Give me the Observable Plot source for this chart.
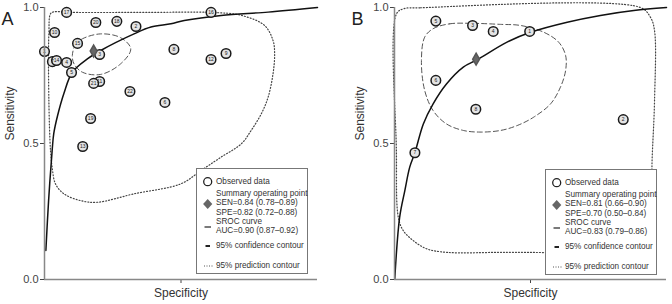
<!DOCTYPE html>
<html><head><meta charset="utf-8">
<script src="https://cdn.jsdelivr.net/npm/d3@7"></script>
<script src="https://cdn.jsdelivr.net/npm/@observablehq/plot@0.6"></script>
<style>
body{margin:0;background:#fff;font-family:"Liberation Sans",Arial,sans-serif;}
#wrap{position:relative;width:672px;height:304px;display:flex;}
.legend{position:absolute;border:1px solid #777;background:#fff;box-sizing:border-box;font-size:8.2px;color:#333;}
.legend .t{position:absolute;white-space:nowrap;line-height:1;transform:translateY(-50%);}
.legend svg{position:absolute;left:0;top:0;overflow:visible;}
</style></head><body><div id="wrap"></div>
<script>
// ---------- Panel A data (specificity, sensitivity) ----------
const studyA_label = [1,2,3,4,5,6,7,8,9,10,11,12,13,14,15,16,17,18,19,20,21,22];
const studyA_spec = [1.000,0.665,0.798,0.919,0.901,0.559,0.971,0.526,0.335,0.963,0.798,0.390,0.860,0.956,0.879,0.390,0.919,0.735,0.831,0.812,0.820,0.687];
const studyA_sens = [0.838,0.930,0.827,0.798,0.761,0.651,0.801,0.846,0.831,0.908,0.728,0.809,0.489,0.805,0.868,0.982,0.982,0.949,0.592,0.945,0.721,0.691];
const summaryA = [0.82, 0.84];
const srocA = [[0.995,0.107],[0.985,0.29],[0.972,0.474],[0.966,0.537],[0.952,0.603],[0.929,0.684],[0.898,0.762],[0.843,0.811],[0.794,0.842],[0.672,0.903],[0.610,0.928],[0.537,0.940],[0.488,0.952],[0.353,0.971],[0.181,0.983],[0.0,1.0]];
const confA = [[0.898,0.824],[0.886,0.864],[0.861,0.885],[0.794,0.903],[0.721,0.889],[0.684,0.848],[0.721,0.793],[0.794,0.754],[0.861,0.762],[0.892,0.793]];
const predA = [[0.966,0.984],[0.904,0.982],[0.610,0.982],[0.390,0.982],[0.279,0.971],[0.194,0.934],[0.163,0.879],[0.157,0.830],[0.163,0.756],[0.181,0.670],[0.206,0.609],[0.243,0.548],[0.279,0.499],[0.353,0.450],[0.426,0.401],[0.500,0.352],[0.672,0.315],[0.806,0.284],[0.868,0.290],[0.929,0.315],[0.960,0.352],[0.972,0.413],[0.978,0.474],[0.984,0.658],[0.984,0.904],[0.978,0.977]];
const legendA = ["SEN=0.84 (0.78–0.89)", "SPE=0.82 (0.72–0.88)", "AUC=0.90 (0.87–0.92)"];

// ---------- Panel B data ----------
const studyB_label = [1,2,3,4,5,6,7,8];
const studyB_spec = [0.503,0.159,0.713,0.637,0.848,0.848,0.925,0.701];
const studyB_sens = [0.912,0.588,0.934,0.912,0.950,0.732,0.466,0.626];
const summaryB = [0.70, 0.81];
const srocB = [[0.999,0.003],[0.981,0.229],[0.962,0.327],[0.944,0.413],[0.925,0.466],[0.894,0.572],[0.858,0.646],[0.809,0.719],[0.747,0.781],[0.696,0.808],[0.588,0.872],[0.5,0.909],[0.365,0.946],[0.243,0.971],[0.120,0.989],[0.0,1.0]];
const confB = [[0.858,0.922],[0.797,0.940],[0.723,0.942],[0.610,0.938],[0.537,0.934],[0.451,0.909],[0.396,0.872],[0.371,0.824],[0.371,0.768],[0.390,0.707],[0.426,0.646],[0.488,0.597],[0.549,0.566],[0.610,0.548],[0.686,0.542],[0.747,0.548],[0.809,0.572],[0.858,0.621],[0.889,0.695],[0.901,0.805],[0.889,0.891]];
const predB = [[0.968,0.995],[0.904,0.999],[0.096,1.0],[0.059,0.964],[0.044,0.915],[0.044,0.658],[0.053,0.438],[0.059,0.217],[0.096,0.125],[0.243,0.103],[0.600,0.100],[0.809,0.100],[0.882,0.113],[0.931,0.143],[0.968,0.180],[0.986,0.229],[0.993,0.474],[0.993,0.976]];
const legendB = ["SEN=0.81 (0.66–0.90)", "SPE=0.70 (0.50–0.84)", "AUC=0.83 (0.79–0.86)"];

const yTicks = [0, 0.5, 1];
const xTicks = [0.5];

function panel(letter, labels, spec, sens, summary, sroc, conf, pred, mL, mR) {
  const studies = labels.map((l, i) => ({label: l, spec: spec[i], sens: sens[i]}));
  return Plot.plot({
    width: 336, height: 304,
    marginLeft: mL, marginRight: mR, marginTop: 7, marginBottom: 25,
    style: {fontFamily: '"Liberation Sans", Arial, sans-serif', fontSize: "11px", color: "#444", background: "transparent"},
    x: {domain: [1, 0], ticks: xTicks, tickFormat: () => "", tickSize: 4, label: null},
    y: {domain: [0, 1], ticks: yTicks, tickFormat: d3.format(".1f"), tickSize: 4, tickPadding: 2, label: null},
    marks: [
      Plot.line(pred, {x: d => d[0], y: d => d[1], curve: "catmull-rom-closed", stroke: "#444", strokeWidth: 1.2, strokeDasharray: "1,2"}),
      Plot.line(conf, {x: d => d[0], y: d => d[1], curve: "catmull-rom-closed", stroke: "#555", strokeWidth: 1, strokeDasharray: "5,3"}),
      Plot.line(sroc, {x: d => d[0], y: d => d[1], curve: "catmull-rom", stroke: "#111", strokeWidth: 1.5}),
      Plot.dot(studies, {x: "spec", y: "sens", r: 4.8, stroke: "#1a1a1a", strokeWidth: 1.5, fill: "#e4e4e4"}),
      Plot.text(studies, {x: "spec", y: "sens", text: "label", fontSize: 5, fill: "#222"}),
      Plot.dot([summary], {x: d => d[0], y: d => d[1], symbol: "diamond", r: 3.6, fill: "#666", stroke: "#555"}),
      Plot.ruleX([1], {stroke: "#888", strokeWidth: 1.5}),
      Plot.ruleY([0], {stroke: "#888", strokeWidth: 1.5}),
      Plot.text(["Specificity"], {frameAnchor: "bottom", dy: 17, fontSize: 12, fill: "#333"}),
      Plot.text(["Sensitivity"], {frameAnchor: "left", rotate: -90, dx: -34, dy: -3, fontSize: 12, fill: "#333"}),
      Plot.text([letter], {frameAnchor: "top-left", textAnchor: "start", dx: -43, dy: 5, fontSize: 18, fill: "#222"})
    ]
  });
}

const wrap = document.getElementById("wrap");
wrap.append(panel("A", studyA_label, studyA_spec, studyA_sens, summaryA, srocA, confA, predA, 44, 19));
wrap.append(panel("B", studyB_label, studyB_spec, studyB_sens, summaryB, srocB, confB, predB, 58, 6));

function legend(left, top, lines) {
  const div = document.createElement("div");
  div.className = "legend";
  Object.assign(div.style, {left: left + "px", top: top + "px", width: "112px", height: "106px"});
  const items = [
    ["Observed data", 12.7], ["Summary operating point", 24.5], [lines[0], 34.2], [lines[1], 43.6],
    ["SROC curve", 53], [lines[2], 62.4], ["95% confidence contour", 77], ["95% prediction contour", 97]
  ];
  div.innerHTML = `<svg width="112" height="106">
    <circle cx="10.7" cy="12.7" r="4" fill="#fff" stroke="#222" stroke-width="1.3"/>
    <path d="M10.7,30 L15.3,35 L10.7,40 L6.1,35 Z" fill="#666"/>
    <line x1="7.5" x2="14" y1="58" y2="58" stroke="#222" stroke-width="1.2"/>
    <line x1="8.5" x2="13" y1="77" y2="77" stroke="#222" stroke-width="2"/>
    <line x1="7" x2="17" y1="97" y2="97" stroke="#555" stroke-width="1" stroke-dasharray="1,1.5"/>
  </svg>` + items.map(([t, y]) => `<div class="t" style="left:19px;top:${y}px">${t}</div>`).join("");
  wrap.append(div);
}
legend(196, 168, legendA);
legend(545, 169, legendB);
</script></body></html>
